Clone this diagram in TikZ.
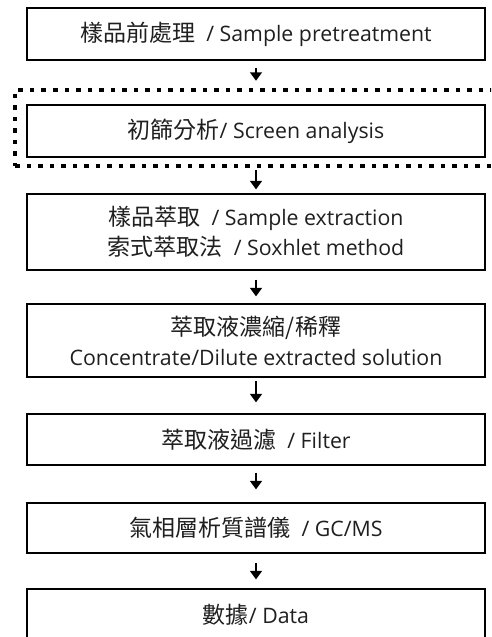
\documentclass[tikz,border=0pt]{standalone}
\usepackage{fontspec}
\setmainfont{Open Sans}
\newfontfamily\cjk[Scale=1.08]{Noto Sans CJK TC}
\usetikzlibrary{arrows.meta}
\begin{document}
\begin{tikzpicture}[x=1pt,y=-1pt,
  box/.style={draw=black, line width=1.3pt, minimum width=458pt, inner sep=0pt,
    align=center, text=black!88, font=\fontsize{21.3}{30}\selectfont},
  arr/.style={-{Triangle[length=8.5pt,width=12pt]}, line width=1.6pt},
  dotbox/.style={draw=black, line width=4.5pt, dash pattern=on 4.5pt off 7pt,
    minimum width=495pt, minimum height=76pt, inner sep=0pt}]
\useasboundingbox (0,0) rectangle (491,637);
\clip (0,0) rectangle (491,637);
\node[box, minimum height=52pt] (b1) at (256,34) {{\cjk 樣品前處理}\ \ / Sample pretreatment};
\node[dotbox] (scr) at (262.5,128) {};
\node[box, minimum height=52pt] (b2) at (256,131) {{\cjk 初篩分析}/ Screen analysis};
\node[box, minimum height=76pt] (b3) at (256,232) {{\cjk 樣品萃取}\ \ / Sample extraction\\{\cjk 索式萃取法}\ \ / Soxhlet method};
\node[box, minimum height=73pt] (b4) at (256,340.5) {{\cjk 萃取液濃縮/稀釋}\\Concentrate/Dilute extracted solution};
\node[box, minimum height=51pt] (b5) at (256,439.5) {{\cjk 萃取液過濾}\ \ / Filter};
\node[box, minimum height=50pt] (b6) at (256,528) {{\cjk 氣相層析質譜儀}\ \ / GC/MS};
\node[box, minimum height=52pt] (b7) at (256,615) {{\cjk 數據}/ Data};
\draw[arr, shorten <=7pt, shorten >=7pt] (b1.south) -- (b1.south |- scr.north);
\draw[arr, shorten <=2pt, shorten >=4pt] (b3.north |- scr.south) -- (b3.north);
\draw[arr, shorten <=9pt, shorten >=7pt] (b3.south) -- (b4.north);
\draw[arr, shorten <=3pt, shorten >=11pt] (b4.south) -- (b5.north);
\draw[arr, shorten <=7pt, shorten >=13pt] (b5.south) -- (b6.north);
\draw[arr, shorten <=9pt, shorten >=9pt] (b6.south) -- (b7.north);
\end{tikzpicture}
\end{document}
